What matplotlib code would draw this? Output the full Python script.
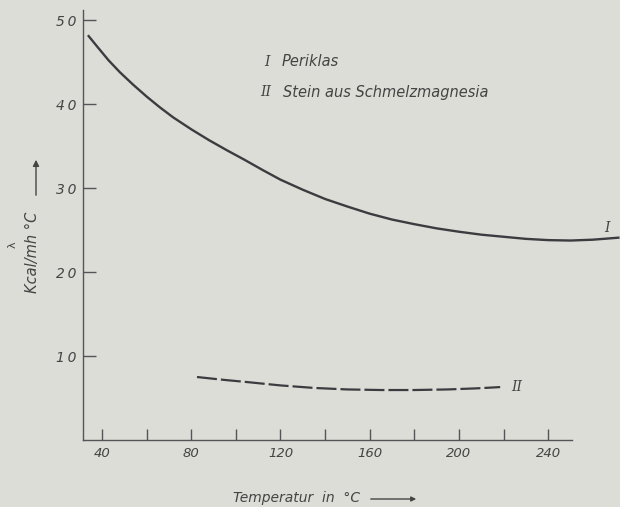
import numpy as np
import matplotlib
matplotlib.use('Agg')
import matplotlib.pyplot as plt

# Kurve I: Periklas
temp_I = [33.7, 38, 43, 48, 54, 60, 66, 72, 80, 88, 96, 104, 112, 120, 130, 140, 150,
          160, 170, 180, 190, 200, 210, 220, 230, 240, 250, 260, 272]
lam_I = [48.2, 46.8, 45.2, 43.8, 42.3, 40.9, 39.6, 38.4, 37.0, 35.7, 34.5, 33.35, 32.15,
         31.0, 29.8, 28.7, 27.8, 26.95, 26.25, 25.7, 25.2, 24.8, 24.45, 24.2, 23.95,
         23.8, 23.75, 23.85, 24.1]

# Kurve II: Stein aus Schmelzmagnesia
temp_II = [82.6, 95, 105, 120, 135, 150, 165, 180, 195, 208, 218.5]
lam_II = [7.5, 7.15, 6.9, 6.5, 6.2, 6.02, 5.95, 5.95, 6.02, 6.15, 6.3]

y_ticks = [10, 20, 30, 40, 50]
y_ticklabels = ['1\u20090', '2\u20090', '3\u20090', '4\u20090', '5\u20090']
x_major = [40, 80, 120, 160, 200, 240]
x_minor = [60, 100, 140, 180, 220]

bg = '#dcddd7'
ink = '#3c3c40'
txt = '#444'

fig = plt.figure(figsize=(6.2, 5.07), dpi=100, facecolor=bg)
ax = fig.add_axes([83/620, 1 - 440/507, (572 - 83)/620, (440 - 10)/507])
ax.set_facecolor(bg)

ax.plot(temp_I, lam_I, color=ink, lw=1.7, clip_on=False, solid_capstyle='butt',
        solid_joinstyle='round')
ax.plot(temp_II, lam_II, color=ink, lw=1.6, dashes=(9, 1.8), dash_capstyle='butt')

ax.set_xlim(31.5, 250.7)
ax.set_ylim(0, 51.2)

for s in ['top', 'right']:
    ax.spines[s].set_visible(False)
for s in ['left', 'bottom']:
    ax.spines[s].set_color('#555558')
    ax.spines[s].set_linewidth(1.0)

ax.set_yticks(y_ticks)
ax.set_yticklabels(y_ticklabels, fontstyle='italic', fontsize=10, color=txt)
ax.set_xticks(x_major)
ax.set_xticklabels([str(v) for v in x_major], fontstyle='italic', fontsize=9.5, color=txt)
ax.set_xticks(x_minor, minor=True)
ax.tick_params(axis='y', direction='in', length=9, width=1, color='#555558', pad=5)
ax.tick_params(axis='x', which='both', direction='in', length=8, width=1, color='#555558', pad=5)

# Legende als Text
fig.text(267/620, 1 - 62/507, 'I', family='DejaVu Serif', style='italic', fontsize=10,
         color=txt, ha='center', va='center')
fig.text(282/620, 1 - 62/507, 'Periklas', style='italic', fontsize=10.5, color=txt,
         va='center')
fig.text(266/620, 1 - 92/507, 'II', family='DejaVu Serif', style='italic', fontsize=10,
         color=txt, ha='center', va='center')
fig.text(283/620, 1 - 92/507, 'Stein aus Schmelzmagnesia', style='italic', fontsize=10.5,
         color=txt, va='center')

ax.text(266.5, 25.2, 'I', family='DejaVu Serif', style='italic', fontsize=10,
        color=txt, ha='center', va='center', clip_on=False)
ax.text(226, 6.3, 'II', family='DejaVu Serif', style='italic', fontsize=10,
        color=txt, ha='center', va='center')

# Achsenbeschriftung y
fig.text(13/620, 1 - 245/507, '\u03bb', rotation=90, fontsize=8, color=txt,
         ha='center', va='center')
fig.text(33/620, 1 - 252/507, 'Kcal/mh °C', rotation=90, style='italic', fontsize=10.5,
         color=txt, ha='center', va='center')
fig.add_artist(matplotlib.patches.FancyArrowPatch(
    (36/620, 1 - 198/507), (36/620, 1 - 157/507), transform=fig.transFigure,
    arrowstyle='-|>', mutation_scale=9, color=txt, lw=1))

# Achsenbeschriftung x
fig.text(233/620, 1 - 498/507, 'Temperatur  in  °C', style='italic', fontsize=10,
         color=txt, ha='left', va='center')
fig.add_artist(matplotlib.patches.FancyArrowPatch(
    (368/620, 1 - 499/507), (419/620, 1 - 499/507), transform=fig.transFigure,
    arrowstyle='-|>', mutation_scale=7, color=txt, lw=1))

fig.savefig('out.png', dpi=100, facecolor=bg)
